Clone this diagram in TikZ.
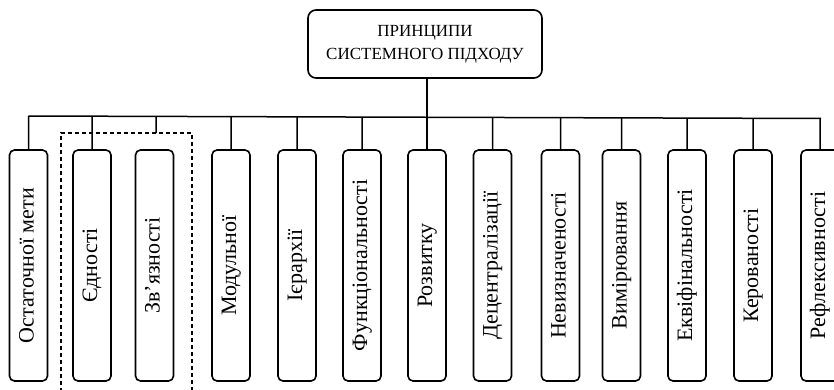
\documentclass[tikz,border=0pt]{standalone}
\usepackage{fontspec}
\setmainfont{Liberation Serif}
\usetikzlibrary{calc}
\begin{document}
\begin{tikzpicture}[x=1pt,y=-1pt,
  title/.style={draw, line width=1.6pt, rounded corners=8pt, minimum width=234pt,
    minimum height=68pt, align=center, inner sep=0pt,
    font=\fontsize{17}{23}\selectfont},
  pbox/.style={draw, line width=1.6pt, rounded corners=5pt, minimum width=38pt,
    minimum height=231pt, inner sep=0pt, font=\fontsize{22}{26}\selectfont},
  link/.style={line width=1.5pt},
  group/.style={line width=1.2pt, dash pattern=on 4pt off 3pt}]
\useasboundingbox (0,0) rectangle (834,390);

% heading
\node[title] (top) at (425,44) {ПРИНЦИПИ\\СИСТЕМНОГО ПІДХОДУ};

% principle boxes
\foreach \n/\x/\t in {1/28.5/Остаточної мети, 2/92/Єдності, 3/154.5/Зв’язності,
  4/231/Модульної, 5/297/Ієрархії, 6/362/Функціональності, 7/427/Розвитку,
  8/492.5/Децентралізації, 9/560.5/Невизначеності, 10/621.5/Вимірювання,
  11/687/Еквіфінальності, 12/753/Керованості, 13/820/Рефлексивності}
  \node[pbox] (b\n) at (\x,265.5) {\rotatebox{90}{\strut\t}};

% common bus
\coordinate (busL) at (28.5,116);
\coordinate (busR) at (821,118.5);
\draw[link] (busL) -- (busR);

% heading to bus and to the central box
\draw[link] (top.south -| b7.north) -- (b7.north);

% branches from the bus
\foreach \n in {1,2,4,5,6,8,9,10,11,12,13}
  \draw[link] ($(busL)!(b\n.north)!(busR)$) -- (b\n.north);

% dashed group of the second and third boxes
\coordinate (gTL) at (61,133);
\coordinate (gTR) at (192,133);
\coordinate (gm) at (156,133);
\draw[group] (61,392) -- (gTL) -- (gTR) -- (192,392);
\draw[link] ($(busL)!(gm)!(busR)$) -- (gm);
\end{tikzpicture}
\end{document}
